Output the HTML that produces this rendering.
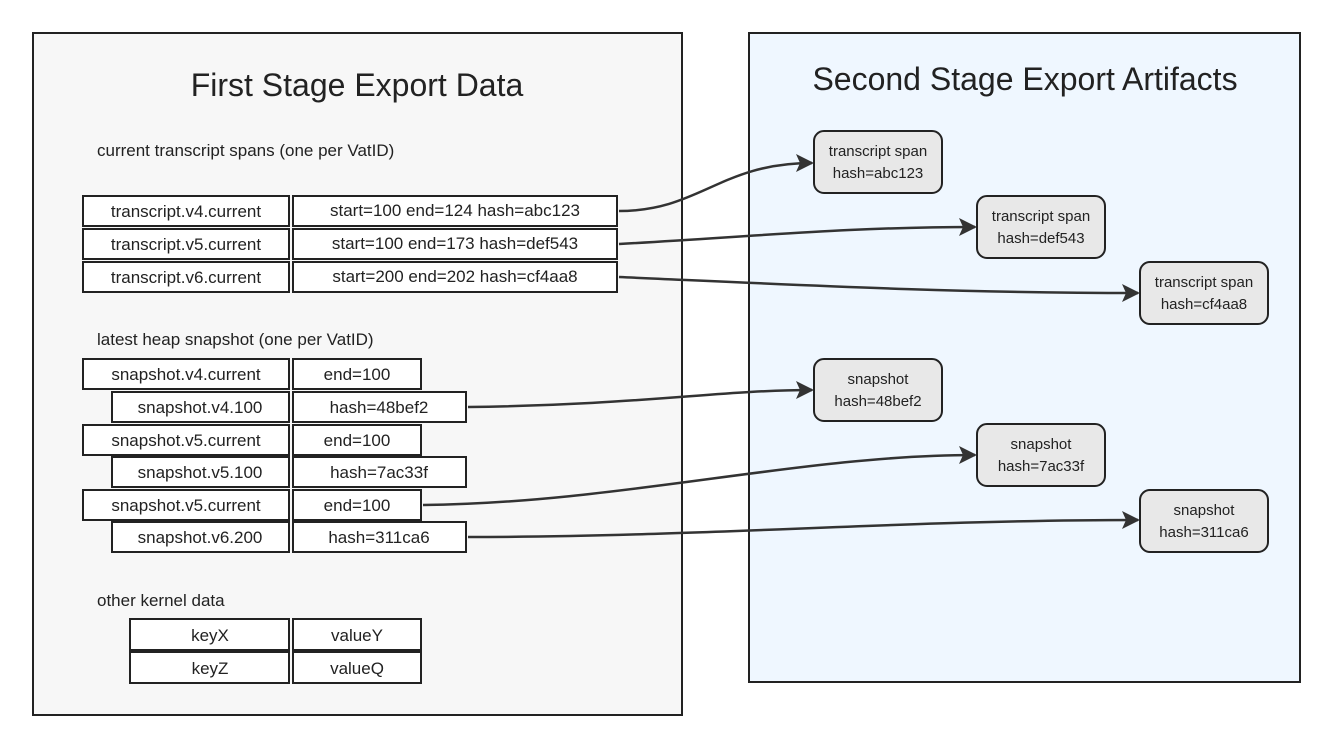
<!DOCTYPE html>
<html><head><meta charset="utf-8"><style>
html,body{margin:0;padding:0;background:#fff;}
svg{display:block;font-family:"Liberation Sans","DejaVu Sans",sans-serif;}
</style></head><body>
<svg width="1335" height="748" viewBox="0 0 1335 748" xmlns="http://www.w3.org/2000/svg">
<defs><marker id="ah" markerWidth="18" markerHeight="18" refX="16" refY="9" orient="auto" markerUnits="userSpaceOnUse">
<path d="M0,0 L18,9 L0,18 L4,9 Z" fill="#333"/></marker></defs>
<rect x="33" y="33" width="649" height="682" fill="#f7f7f7" stroke="#222" stroke-width="2"/>
<rect x="749" y="33" width="551" height="649" fill="#eff7ff" stroke="#222" stroke-width="2"/>
<text x="357" y="96" font-size="32" text-anchor="middle" fill="#222">First Stage Export Data</text>
<text x="1025" y="90" font-size="32" text-anchor="middle" fill="#222">Second Stage Export Artifacts</text>
<g font-size="17" fill="#222">
<text x="97" y="156">current transcript spans (one per VatID)</text>
<text x="97" y="345">latest heap snapshot (one per VatID)</text>
<text x="97" y="606">other kernel data</text>
</g>
<g stroke="#222" stroke-width="2" fill="#fff">
<rect x="83" y="196" width="206" height="30"/><rect x="293" y="196" width="324" height="30"/>
<rect x="83" y="229" width="206" height="30"/><rect x="293" y="229" width="324" height="30"/>
<rect x="83" y="262" width="206" height="30"/><rect x="293" y="262" width="324" height="30"/>
<rect x="83" y="359" width="206" height="30"/><rect x="293" y="359" width="128" height="30"/>
<rect x="112" y="392" width="177" height="30"/><rect x="293" y="392" width="173" height="30"/>
<rect x="83" y="425" width="206" height="30"/><rect x="293" y="425" width="128" height="30"/>
<rect x="112" y="457" width="177" height="30"/><rect x="293" y="457" width="173" height="30"/>
<rect x="83" y="490" width="206" height="30"/><rect x="293" y="490" width="128" height="30"/>
<rect x="112" y="522" width="177" height="30"/><rect x="293" y="522" width="173" height="30"/>
<rect x="130" y="619" width="159" height="31"/><rect x="293" y="619" width="128" height="31"/>
<rect x="130" y="652" width="159" height="31"/><rect x="293" y="652" width="128" height="31"/>
</g>
<g font-size="17" fill="#222" text-anchor="middle">
<text x="186" y="217">transcript.v4.current</text><text x="455" y="216">start=100 end=124 hash=abc123</text>
<text x="186" y="250">transcript.v5.current</text><text x="455" y="249">start=100 end=173 hash=def543</text>
<text x="186" y="283">transcript.v6.current</text><text x="455" y="282">start=200 end=202 hash=cf4aa8</text>
<text x="186" y="380">snapshot.v4.current</text><text x="357" y="380">end=100</text>
<text x="200" y="413">snapshot.v4.100</text><text x="379" y="413">hash=48bef2</text>
<text x="186" y="446">snapshot.v5.current</text><text x="357" y="446">end=100</text>
<text x="200" y="478">snapshot.v5.100</text><text x="379" y="478">hash=7ac33f</text>
<text x="186" y="511">snapshot.v5.current</text><text x="357" y="511">end=100</text>
<text x="200" y="543">snapshot.v6.200</text><text x="379" y="543">hash=311ca6</text>
<text x="210" y="641">keyX</text><text x="357" y="641">valueY</text>
<text x="210" y="674">keyZ</text><text x="357" y="674">valueQ</text>
</g>
<g stroke="#333" stroke-width="2.5" fill="none" marker-end="url(#ah)">
<path d="M619,211 C700,211 720,163 812,163"/>
<path d="M619,244 C760,236 850,227 975,227"/>
<path d="M619,277 C800,285 950,293 1138,293"/>
<path d="M468,407 C640,405 720,390 812,390"/>
<path d="M423,505 C620,503 800,455 975,455"/>
<path d="M468,537 C700,537 900,520 1138,520"/>
</g>
<g stroke="#222" stroke-width="2" fill="#e8e8e8">
<rect x="814" y="131" width="128" height="62" rx="10"/>
<rect x="977" y="196" width="128" height="62" rx="10"/>
<rect x="1140" y="262" width="128" height="62" rx="10"/>
<rect x="814" y="359" width="128" height="62" rx="10"/>
<rect x="977" y="424" width="128" height="62" rx="10"/>
<rect x="1140" y="490" width="128" height="62" rx="10"/>
</g>
<g font-size="15" fill="#222" text-anchor="middle">
<text x="878" y="156">transcript span</text><text x="878" y="178">hash=abc123</text>
<text x="1041" y="221">transcript span</text><text x="1041" y="243">hash=def543</text>
<text x="1204" y="287">transcript span</text><text x="1204" y="309">hash=cf4aa8</text>
<text x="878" y="384">snapshot</text><text x="878" y="406">hash=48bef2</text>
<text x="1041" y="449">snapshot</text><text x="1041" y="471">hash=7ac33f</text>
<text x="1204" y="515">snapshot</text><text x="1204" y="537">hash=311ca6</text>
</g>
</svg>
</body></html>
